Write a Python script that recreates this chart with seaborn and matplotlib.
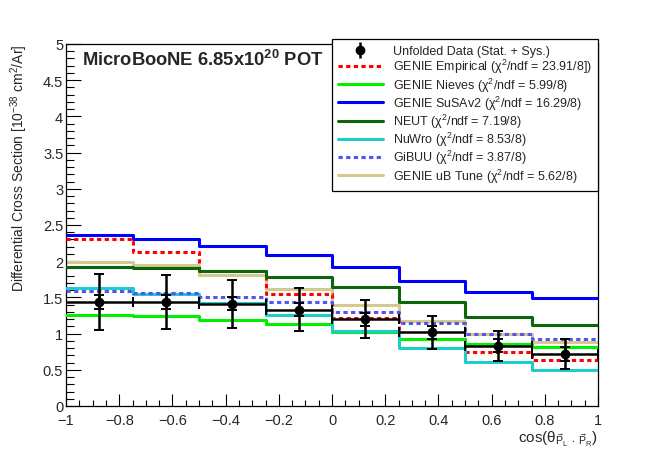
import matplotlib
matplotlib.use('Agg')
import matplotlib.pyplot as plt
from matplotlib.lines import Line2D
from matplotlib.legend_handler import HandlerTuple
from matplotlib.ticker import MultipleLocator, FuncFormatter
import numpy as np
import pandas as pd
import seaborn as sns

# Binning: cos(theta_{PL . PR})
bin_edges = [-1.0, -0.75, -0.5, -0.25, 0.0, 0.25, 0.5, 0.75, 1.0]
bin_centers = [-0.875, -0.625, -0.375, -0.125, 0.125, 0.375, 0.625, 0.875]

# Unfolded data [10^-38 cm^2/Ar]
data_xsec = [1.44, 1.44, 1.41, 1.33, 1.20, 1.02, 0.83, 0.72]
data_err_total = [0.385, 0.37, 0.33, 0.30, 0.26, 0.23, 0.21, 0.205]
data_err_stat = [0.095, 0.095, 0.09, 0.09, 0.09, 0.09, 0.09, 0.095]

# Generator predictions
genie_empirical = [2.30, 2.13, 1.87, 1.55, 1.22, 0.93, 0.74, 0.64]
genie_nieves = [1.26, 1.24, 1.19, 1.13, 1.02, 0.93, 0.85, 0.81]
genie_susav2 = [2.36, 2.31, 2.21, 2.08, 1.92, 1.73, 1.57, 1.49]
neut = [1.92, 1.91, 1.86, 1.78, 1.64, 1.43, 1.23, 1.12]
nuwro = [1.63, 1.55, 1.42, 1.26, 1.04, 0.80, 0.61, 0.50]
gibuu = [1.59, 1.56, 1.50, 1.43, 1.30, 1.15, 1.00, 0.925]
genie_ub_tune = [1.99, 1.95, 1.81, 1.62, 1.40, 1.17, 0.99, 0.89]

legend_data = 'Unfolded Data (Stat. + Sys.)'
model_labels = [
    r'GENIE Empirical ($\chi^{2}$/ndf = 23.91/8])',
    r'GENIE Nieves ($\chi^{2}$/ndf = 5.99/8)',
    r'GENIE SuSAv2 ($\chi^{2}$/ndf = 16.29/8)',
    r'NEUT ($\chi^{2}$/ndf = 7.19/8)',
    r'NuWro ($\chi^{2}$/ndf = 8.53/8)',
    r'GiBUU ($\chi^{2}$/ndf = 3.87/8)',
    r'GENIE uB Tune ($\chi^{2}$/ndf = 5.62/8)',
]

sns.set_style('ticks')
plt.rcParams['font.family'] = ['Liberation Sans', 'DejaVu Sans']
plt.rcParams['mathtext.fontset'] = 'custom'
plt.rcParams['mathtext.rm'] = 'Liberation Sans'
plt.rcParams['mathtext.it'] = 'Liberation Sans:italic'
plt.rcParams['mathtext.bf'] = 'Liberation Sans:bold'
plt.rcParams['mathtext.default'] = 'regular'

dotted = (0, (1.4, 1.1))
styles = {
    'GENIE Empirical': dict(color='#ff0000', ls=dotted, z=3),
    'GENIE Nieves': dict(color='#00f000', ls='-', z=4),
    'GENIE SuSAv2': dict(color='#0000ff', ls='-', z=5),
    'NEUT': dict(color='#0b660b', ls='-', z=5),
    'NuWro': dict(color='#1fcccc', ls='-', z=6),
    'GiBUU': dict(color='#5555ee', ls=dotted, z=7),
    'GENIE uB Tune': dict(color='#d4c98f', ls='-', z=2),
}
models = {
    'GENIE Empirical': genie_empirical,
    'GENIE Nieves': genie_nieves,
    'GENIE SuSAv2': genie_susav2,
    'NEUT': neut,
    'NuWro': nuwro,
    'GiBUU': gibuu,
    'GENIE uB Tune': genie_ub_tune,
}

fig = plt.figure(figsize=(6.64, 4.52), dpi=100)
ax = fig.add_axes([66 / 664, (452 - 407) / 452, 532 / 664, 362 / 452])

lw = 2.2
handles = []
for name, vals in models.items():
    st = styles[name]
    df = pd.DataFrame({'x': bin_centers, 'w': vals})
    sns.histplot(data=df, x='x', weights='w', bins=bin_edges, element='step',
                 fill=False, color=st['color'], linewidth=lw, linestyle=st['ls'],
                 zorder=st['z'], ax=ax)
    handles.append(Line2D([], [], color=st['color'], lw=lw, ls=st['ls']))

# data points: total error and stat error
navy = '#00008b'
_, caps, _ = ax.errorbar(bin_centers, data_xsec, xerr=0.125, yerr=data_err_total,
                         fmt='o', color='k', ms=6, elinewidth=1.8, capsize=3.3,
                         capthick=1.4, zorder=10)
for c in caps:
    c.set_color(navy)
_, caps2, _ = ax.errorbar(bin_centers, data_xsec, yerr=data_err_stat, fmt='none',
                          ecolor='k', elinewidth=1.8, capsize=3.3, capthick=1.4,
                          zorder=10)
for c in caps2:
    c.set_color(navy)

ax.set_xlim(-1, 1)
ax.set_ylim(0, 5)

fmt = FuncFormatter(lambda v, p: ('%g' % round(v, 3)).replace('-', '\u2212'))
ax.xaxis.set_major_locator(MultipleLocator(0.2))
ax.xaxis.set_minor_locator(MultipleLocator(0.05))
ax.yaxis.set_major_locator(MultipleLocator(0.5))
ax.yaxis.set_minor_locator(MultipleLocator(0.1))
ax.xaxis.set_major_formatter(fmt)
ax.yaxis.set_major_formatter(fmt)
ax.tick_params(axis='both', which='both', direction='in', labelsize=10.5,
               width=0.8, color='k', top=False, right=False)
ax.tick_params(axis='x', which='major', length=9, pad=5)
ax.tick_params(axis='x', which='minor', length=4.5)
ax.tick_params(axis='y', which='major', length=11, pad=2)
ax.tick_params(axis='y', which='minor', length=5.5)
for s in ax.spines.values():
    s.set_linewidth(0.9)
    s.set_color('k')

ax.set_ylabel(r'Differential Cross Section [10$^{-38}$ cm$^{2}$/Ar]',
              fontsize=10, loc='top')
ax.yaxis.set_label_coords(-0.068, 1.0)
ax.set_xlabel(r'cos(θ$_{\vec{P}_{L}\;\bullet\;\vec{P}_{R}}$)', fontsize=11,
              loc='right')
ax.xaxis.set_label_coords(1.0, -0.062)

ax.text(0.03, 0.958, r'MicroBooNE 6.85x10$^{\mathbf{20}}$ POT', transform=ax.transAxes,
        fontsize=13.2, fontweight='bold', ha='left', va='center')

data_handle = (Line2D([], [], color='k', marker='|', ms=11, mew=1.8, ls='none'),
               Line2D([], [], color='k', marker='o', ms=6, ls='none'))
leg = ax.legend([data_handle] + handles, [legend_data] + model_labels,
                handler_map={tuple: HandlerTuple(ndivide=1)},
                loc='upper right', bbox_to_anchor=(1.0, 1.014), borderaxespad=0,
                fontsize=9, frameon=True, fancybox=False, edgecolor='k',
                framealpha=1, handlelength=3.6, handletextpad=0.8,
                labelspacing=0.0, borderpad=0.5)
leg.get_frame().set_linewidth(0.9)
leg.set_zorder(20)

fig.savefig('out.png', dpi=100)
plt.close()
